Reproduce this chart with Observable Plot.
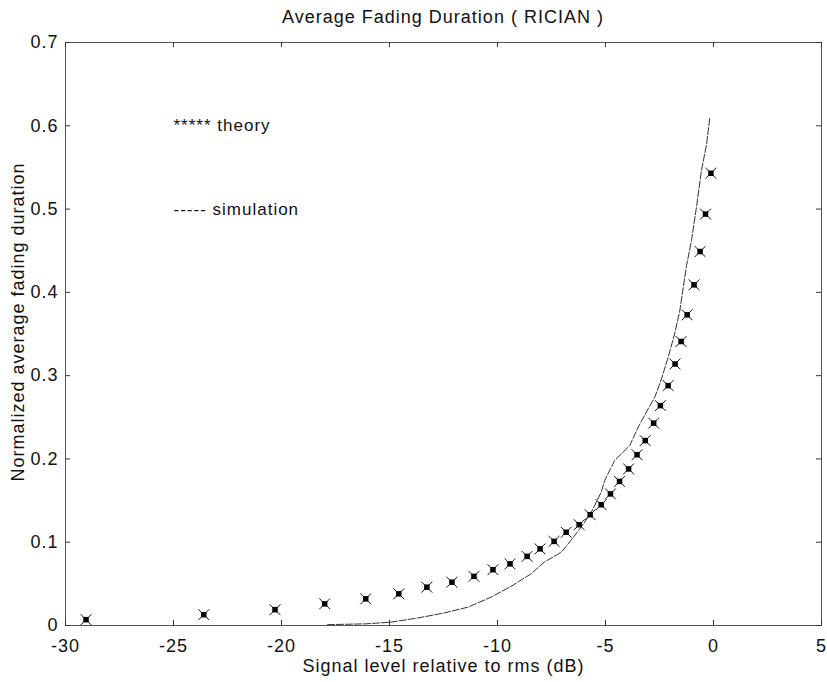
<!DOCTYPE html>
<html>
<head>
<meta charset="utf-8">
<script src="https://cdn.jsdelivr.net/npm/d3@7"></script>
<script src="https://cdn.jsdelivr.net/npm/@observablehq/plot@0.6"></script>
<style>
  body { margin: 0; background: #fff; }
  #wrap { width: 827px; font-family: "Liberation Sans", Arial, sans-serif; }
  #title { position: relative; height: 28px; }
  #title span { position: absolute; left: 65px; width: 756px; top: 7px; line-height: 20px;
    text-align: center; font-size: 18px; letter-spacing: 1px; color: #111; }
  svg text { letter-spacing: 1px; }
</style>
</head>
<body>
<div id="wrap">
  <div id="title"><span>Average Fading Duration ( RICIAN )</span></div>
  <div id="chart"></div>
</div>
<script>
// Theoretical average fade duration (markers)
const theoryLevel = [-29.05, -23.6, -20.3, -18.0, -16.1, -14.57, -13.27, -12.11, -11.09, -10.21,
  -9.42, -8.63, -8.03, -7.38, -6.82, -6.22, -5.71, -5.20, -4.77, -4.35, -3.93, -3.54, -3.16,
  -2.77, -2.46, -2.10, -1.78, -1.50, -1.22, -0.90, -0.62, -0.37, -0.12];
const theoryDuration = [0.007, 0.013, 0.019, 0.026, 0.032, 0.038, 0.046, 0.052, 0.059, 0.067,
  0.074, 0.083, 0.092, 0.101, 0.112, 0.121, 0.133, 0.145, 0.158, 0.173, 0.188, 0.205, 0.222,
  0.243, 0.264, 0.288, 0.314, 0.341, 0.373, 0.409, 0.449, 0.494, 0.543];

// Simulated average fade duration (dashed curve)
const simLevel = [-17.87, -16.1, -14.94, -13.69, -12.48, -11.37, -10.30, -9.37, -8.45, -7.84,
  -7.05, -6.73, -6.13, -5.66, -5.20, -5.04, -4.58, -4.19, -3.88, -3.49, -3.03, -2.72, -2.41,
  -2.10, -1.80, -1.56, -1.25, -1.02, -0.79, -0.56, -0.32, -0.17];
const simDuration = [0.001, 0.002, 0.004, 0.009, 0.015, 0.022, 0.034, 0.047, 0.062, 0.076,
  0.088, 0.098, 0.118, 0.136, 0.160, 0.174, 0.198, 0.208, 0.216, 0.238, 0.260, 0.274, 0.296,
  0.322, 0.350, 0.378, 0.432, 0.462, 0.502, 0.546, 0.578, 0.610];

const xTicks = [-30, -25, -20, -15, -10, -5, 0, 5];
const yTicks = [0, 0.1, 0.2, 0.3, 0.4, 0.5, 0.6, 0.7];
const yTickLabels = ["0", "0.1", "0.2", "0.3", "0.4", "0.5", "0.6", "0.7"];

const legendText = ["***** theory", "----- simulation"];
const legendLevel = [-25, -25];
const legendDuration = [0.6, 0.5];

const xLabel = "Signal level relative to rms (dB)";
const yLabel = "Normalized average fading duration";

const theory = theoryLevel.map((x, i) => ({x, y: theoryDuration[i]}));
const sim = simLevel.map((x, i) => ({x, y: simDuration[i]}));
const legend = legendText.map((t, i) => ({t, x: legendLevel[i], y: legendDuration[i]}));

const W = 827, H = 654;
const mt = 14, mb = 57, ml = 65, mr = 6;
const frameW = W - ml - mr, frameH = H - mt - mb;
const tick = 5;

const chart = Plot.plot({
  width: W,
  height: H,
  marginTop: mt,
  marginBottom: mb,
  marginLeft: ml,
  marginRight: mr,
  style: {fontFamily: '"Liberation Sans", Arial, sans-serif', fontSize: "18px", color: "#111", background: "#fff"},
  x: {domain: [-30, 5]},
  y: {domain: [0, 0.7]},
  marks: [
    Plot.frame({stroke: "#555", strokeWidth: 1}),
    // inward ticks on all four sides
    Plot.tickX(xTicks, {x: d => d, insetTop: frameH - tick, stroke: "#333"}),
    Plot.tickX(xTicks, {x: d => d, insetBottom: frameH - tick, stroke: "#333"}),
    Plot.tickY(yTicks, {y: d => d, insetRight: frameW - tick, stroke: "#333"}),
    Plot.tickY(yTicks, {y: d => d, insetLeft: frameW - tick, stroke: "#333"}),
    Plot.axisX({ticks: xTicks, tickSize: 0, tickPadding: 14, fontSize: 18, tickFormat: d => String(d), label: null}),
    Plot.axisY({ticks: yTicks, tickSize: 0, tickPadding: 7, fontSize: 18, tickFormat: (d, i) => yTickLabels[i], label: null}),
    Plot.text([xLabel], {frameAnchor: "bottom", dy: 41, textAnchor: "middle", lineAnchor: "middle", fontSize: 18, fill: "#111"}),
    Plot.text([yLabel], {frameAnchor: "left", dx: -47, dy: -12, rotate: -90, textAnchor: "middle", lineAnchor: "middle", fontSize: 18, fill: "#111"}),
    // simulation curve
    Plot.line(sim, {x: "x", y: "y", stroke: "#333", strokeWidth: 1, strokeDasharray: "7,2"}),
    // theory markers: star arms with a filled centre
    Plot.dot(theory, {x: "x", y: "y", symbol: "times", r: 5, stroke: "#111", strokeWidth: 1}),
    Plot.dot(theory, {x: "x", y: "y", symbol: "square", r: 3.1, fill: "#000"}),
    // in-plot legend text
    Plot.text(legend, {x: "x", y: "y", text: "t", textAnchor: "start", lineAnchor: "middle", fontSize: 17, fill: "#111"})
  ]
});
document.getElementById("chart").appendChild(chart);
</script>
</body>
</html>
